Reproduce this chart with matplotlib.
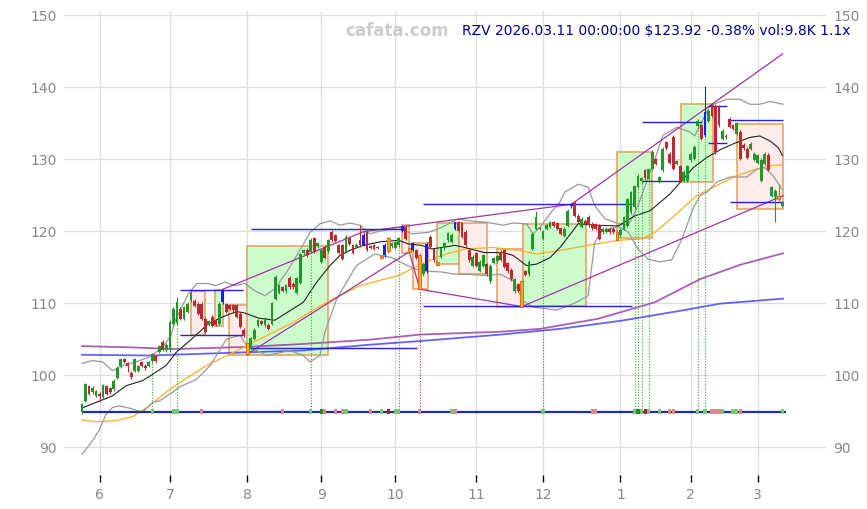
import matplotlib
matplotlib.use('Agg')
import matplotlib.pyplot as plt
from matplotlib.patches import Rectangle
import numpy as np
import pandas as pd

# trading calendar (x axis is bar index, labelled by month)
holidays = ['2025-05-26', '2025-06-19', '2025-07-04', '2025-09-01', '2025-11-27',
            '2025-12-25', '2026-01-01', '2026-01-19', '2026-02-16']
dates = pd.bdate_range('2025-05-23', '2026-03-11', freq='C', holidays=holidays)

# daily OHLC
opens = [94.8, 96.4, 98.4, 97.6, 97.1, 97.4, 96.9, 98.5, 98.2, 98.0,
         99.6, 101.2, 102.2, 101.6, 100.3, 100.6, 100.6, 101.8, 101.3, 101.3,
         101.9, 102.6, 103.2, 104.6, 103.4, 103.4, 107.1, 107.2, 109.2, 107.8,
         108.8, 110.4, 110.3, 109.9, 109.9, 107.8, 107.0, 108.1, 107.6, 107.1,
         110.1, 109.8, 109.7, 109.7, 109.7, 108.5, 106.3, 104.4, 103.6, 105.0,
         106.8, 107.5, 106.9, 107.0, 107.1, 110.6, 111.4, 112.2, 111.6, 113.5,
         112.7, 111.4, 112.8, 116.9, 117.4, 117.1, 119.0, 117.9, 115.7, 117.8,
         117.2, 119.9, 119.4, 118.0, 118.0, 117.1, 119.0, 118.0, 117.8, 118.7,
         118.1, 119.9, 117.9, 118.0, 117.8, 116.5, 116.6, 117.2, 117.9, 117.7,
         118.0, 120.0, 120.5, 117.6, 117.4, 117.3, 116.7, 114.0, 114.4, 119.2,
         117.5, 115.7, 116.4, 117.6, 118.7, 118.5, 120.3, 121.2, 121.1, 119.9,
         117.3, 115.2, 116.9, 114.5, 115.2, 115.4, 113.0, 115.6, 115.8, 117.1,
         117.3, 115.5, 114.6, 111.6, 112.6, 113.1, 114.4, 114.0, 117.5, 120.3,
         120.4, 118.9, 120.3, 120.6, 121.2, 121.1, 120.4, 119.3, 120.7, 123.4,
         123.9, 122.1, 120.6, 121.4, 122.0, 121.0, 120.9, 120.8, 119.8, 119.9,
         120.3, 120.3, 119.9, 119.4, 120.3, 120.7, 122.6, 123.3, 126.1, 126.9,
         128.4, 127.2, 128.6, 130.0, 127.0, 128.4, 132.3, 130.7, 133.1, 129.3,
         129.0, 127.0, 127.0, 129.8, 130.0, 134.6, 134.7, 133.3, 135.3, 137.6,
         137.4, 137.3, 132.8, 133.2, 135.6, 134.7, 133.5, 133.8, 132.0, 131.4,
         131.4, 129.9, 129.5, 127.0, 129.3, 130.6, 124.9, 124.7, 124.9, 123.5]
closes = [95.9, 98.7, 97.4, 98.2, 97.7, 97.1, 98.6, 97.4, 97.6, 99.2,
          101.0, 102.2, 101.8, 101.2, 99.7, 102.2, 101.2, 101.3, 100.9, 101.8,
          102.9, 101.9, 104.0, 103.5, 104.2, 107.4, 109.2, 110.2, 107.8, 109.4,
          109.9, 111.4, 109.6, 108.5, 107.8, 106.0, 107.5, 106.8, 107.0, 109.9,
          111.8, 108.8, 109.2, 109.0, 108.1, 106.7, 105.5, 102.9, 105.1, 106.3,
          107.6, 107.1, 107.8, 106.4, 110.0, 113.6, 112.5, 111.7, 112.5, 112.2,
          112.2, 113.4, 116.8, 117.3, 116.6, 118.8, 117.1, 118.3, 117.3, 116.3,
          118.7, 118.7, 118.6, 117.0, 116.1, 119.2, 118.2, 117.0, 118.1, 118.0,
          119.4, 117.4, 117.7, 117.5, 117.7, 116.3, 118.1, 119.0, 118.3, 118.4,
          119.0, 120.7, 118.9, 117.1, 118.3, 116.3, 111.9, 115.4, 118.2, 117.8,
          115.9, 115.3, 117.6, 118.3, 119.7, 119.5, 121.2, 120.0, 119.2, 118.0,
          115.9, 116.4, 115.2, 115.7, 116.6, 114.0, 115.2, 116.2, 116.5, 116.0,
          115.0, 114.4, 113.3, 113.3, 111.7, 109.5, 113.9, 115.7, 119.6, 121.9,
          120.3, 120.0, 120.8, 121.2, 120.7, 120.3, 119.6, 120.3, 122.8, 123.7,
          122.1, 121.3, 121.7, 121.0, 120.8, 120.4, 120.3, 118.9, 120.3, 120.3,
          119.8, 119.8, 118.8, 120.2, 121.9, 124.4, 125.4, 126.2, 127.7, 127.3,
          127.3, 128.6, 131.0, 129.3, 127.5, 131.4, 131.5, 129.5, 128.6, 129.7,
          127.0, 128.2, 129.0, 130.7, 131.7, 135.3, 132.8, 136.5, 136.7, 136.0,
          130.9, 134.7, 133.9, 133.0, 134.5, 134.2, 135.0, 130.0, 131.5, 130.2,
          132.1, 130.7, 130.5, 129.9, 130.7, 128.5, 126.1, 125.6, 124.39, 123.92]
highs = [96.1, 98.9, 98.6, 98.4, 97.9, 97.6, 98.8, 98.6, 98.3, 99.4,
         101.2, 102.4, 102.4, 101.8, 100.5, 102.4, 101.4, 101.9, 101.5, 102.0,
         103.1, 102.8, 104.2, 104.8, 104.4, 107.6, 109.5, 110.8, 109.5, 109.6,
         110.1, 111.6, 110.6, 110.1, 110.1, 108.0, 107.7, 108.3, 107.8, 110.1,
         111.9, 110.0, 109.9, 109.9, 109.9, 108.7, 106.5, 104.5, 105.3, 106.5,
         107.8, 107.7, 108.0, 107.2, 110.2, 113.9, 112.7, 112.4, 112.7, 113.7,
         112.9, 113.6, 117.0, 117.5, 117.6, 119.0, 119.2, 118.5, 117.5, 118.0,
         118.9, 120.1, 119.6, 118.2, 118.2, 119.4, 119.2, 118.2, 118.3, 120.8,
         119.9, 120.1, 118.1, 118.2, 117.9, 116.6, 118.3, 119.2, 118.5, 118.6,
         119.2, 120.8, 120.7, 117.8, 118.5, 117.5, 116.9, 115.6, 118.4, 119.4,
         117.7, 115.9, 117.8, 118.5, 119.9, 119.7, 121.3, 121.4, 121.3, 120.1,
         117.5, 116.6, 117.1, 115.9, 116.8, 115.6, 115.4, 116.4, 116.7, 117.3,
         117.5, 115.7, 114.8, 113.5, 112.8, 113.2, 114.6, 115.9, 119.8, 122.8,
         120.6, 120.2, 121.0, 121.4, 121.4, 121.3, 120.6, 120.5, 123.0, 123.8,
         124.1, 122.3, 121.9, 121.6, 122.2, 121.2, 121.1, 121.0, 120.5, 120.5,
         120.5, 120.5, 120.1, 120.4, 122.1, 124.6, 125.6, 126.4, 127.9, 127.5,
         128.6, 128.8, 131.2, 130.2, 127.7, 131.6, 132.5, 130.9, 133.3, 129.9,
         129.2, 128.4, 129.2, 130.9, 131.9, 135.5, 134.9, 140.2, 136.9, 137.8,
         137.6, 137.5, 134.1, 133.4, 135.8, 134.9, 135.2, 134.0, 132.2, 131.6,
         132.3, 130.9, 130.7, 130.1, 130.9, 130.8, 126.3, 125.8, 126.5, 124.1]
lows = [94.6, 96.2, 97.2, 97.4, 96.9, 96.3, 96.7, 97.2, 97.4, 97.8,
        99.4, 101.0, 101.6, 100.4, 99.5, 100.4, 100.4, 101.1, 100.7, 101.1,
        101.7, 101.7, 103.0, 103.3, 103.2, 103.2, 106.9, 107.0, 107.6, 107.6,
        108.6, 110.2, 109.4, 108.3, 107.6, 105.8, 106.8, 106.6, 106.8, 106.9,
        109.9, 108.6, 109.0, 108.8, 107.9, 106.5, 105.3, 102.8, 103.4, 104.8,
        106.6, 106.9, 106.7, 106.2, 106.9, 110.4, 111.2, 111.5, 111.4, 112.0,
        112.0, 111.2, 112.6, 116.7, 116.4, 116.9, 116.9, 117.7, 115.5, 116.1,
        117.0, 118.5, 118.4, 116.8, 115.9, 116.9, 118.0, 116.8, 117.6, 117.8,
        117.9, 117.2, 117.5, 117.3, 117.5, 116.1, 116.4, 117.0, 117.7, 117.5,
        117.8, 119.9, 118.7, 116.9, 117.2, 116.1, 111.9, 113.8, 114.2, 117.6,
        115.7, 115.1, 116.2, 117.4, 118.5, 118.3, 120.1, 119.8, 119.0, 117.8,
        115.7, 115.0, 115.0, 114.3, 115.0, 113.8, 112.8, 115.4, 115.6, 115.8,
        114.8, 114.2, 113.1, 111.4, 111.5, 109.5, 113.7, 113.8, 117.3, 120.1,
        120.1, 118.7, 120.1, 120.4, 120.5, 120.1, 119.4, 119.1, 120.5, 123.2,
        121.9, 121.1, 120.4, 120.8, 120.6, 120.2, 120.1, 118.7, 119.6, 119.7,
        119.6, 119.6, 118.6, 119.2, 120.1, 120.5, 122.4, 123.1, 125.9, 126.7,
        127.1, 127.0, 128.4, 129.1, 126.7, 128.2, 131.3, 129.3, 128.4, 129.1,
        126.8, 126.8, 126.8, 129.6, 129.8, 134.4, 132.6, 133.0, 135.1, 135.8,
        130.7, 134.5, 132.6, 132.8, 134.3, 134.0, 133.3, 129.8, 131.3, 130.0,
        131.2, 129.7, 129.3, 126.8, 129.1, 128.3, 124.7, 121.3, 124.1, 123.3]

# highlighted candles
blue_bars = [40, 80, 86, 91, 94, 98, 106, 139, 177]
orange_bars = [47, 85, 87, 93, 96, 101, 125, 152, 198]

# indicator lines, read at bar positions
mid_x = [0, 8.7, 12.5, 17.2, 20.1, 23.9, 26.7, 31.2, 35.9, 40.6, 44, 46.3, 50.1, 54.8,
         60, 62.9, 66.7, 70.5, 73.3, 76.1, 79.9, 81.8, 85, 90, 92.7, 96.5, 99.3, 102.2,
         106, 108.8, 114.3, 119.7, 122.5, 126.3, 129.2, 133, 136, 141, 145.7, 152.4,
         157.1, 161.4, 167, 170.8, 173.7, 177.5, 181.8, 186, 189.8, 192.6, 195.5, 197.8, 199]
mid_y = [95.4, 97.1, 98.5, 99.2, 100.1, 101.3, 103.1, 105.0, 107.1, 108.2, 108.8, 108.6, 107.9, 107.6,
         109.2, 110.1, 112.9, 115.2, 116.6, 117.3, 118.0, 118.2, 118.5, 118.7, 118.2, 118.0, 117.5, 117.7,
         118.0, 117.7, 117.0, 117.0, 116.6, 115.2, 115.4, 116.3, 117.8, 121.0, 120.8, 120.7,
         122.1, 122.8, 125.1, 127.2, 128.8, 130.2, 131.4, 132.3, 133.0, 133.2, 132.5, 131.6, 130.5]

upper_x = [0, 3, 5.9, 8.7, 11.6, 15.3, 19.1, 22.9, 25.3, 26.7, 30.2, 32.6, 35.9, 37.8, 40.6,
           43.5, 46.3, 49.1, 52, 54.8, 58.2, 61.9, 64.8, 67.6, 70.5, 73.3, 76.1, 79, 81.8,
           83.2, 89.9, 93.7, 98.4, 102.2, 106.9, 108.8, 115, 119.7, 122.5, 126.3, 128.2,
           130.1, 133, 135.8, 137.2, 141, 143.8, 145.7, 148.6, 152.4, 155.2, 158, 160.9,
           162.8, 165.1, 169, 172.7, 174.1, 178.4, 183.2, 186.9, 189.8, 192.6, 195.5, 199.2]
upper_y = [101.6, 102.0, 101.8, 100.6, 101.3, 101.8, 102.5, 103.8, 105.5, 107.8, 111.25, 112.7, 112.7, 112.4, 112.9,
           112.4, 112.7, 111.7, 111.0, 112.0, 114.3, 117.3, 119.8, 121.0, 121.4, 120.8, 121.1, 120.8, 119.6,
           119.8, 120.5, 119.6, 119.8, 120.5, 121.7, 121.5, 121.2, 120.8, 121.1, 121.0, 119.6,
           120.5, 122.4, 124.0, 125.4, 126.5, 126.1, 123.5, 121.7, 121.0, 120.8, 123.5, 127.5,
           130.0, 133.3, 134.4, 133.75, 133.2, 137.4, 138.3, 138.3, 137.6, 137.6, 138.0, 137.6]

lower_x = [0, 2.8, 5.1, 6.8, 8.7, 10.6, 13.4, 17.2, 20.1, 22, 25.8, 27.6, 32.6, 36.4, 41.1,
           44.9, 46.8, 52.5, 59.1, 62.9, 64.8, 67.6, 69, 72.4, 75.2, 78, 80.9, 83.2, 88, 90.8,
           94.6, 98.4, 102.2, 106, 108.8, 115, 118.8, 122.5, 125.4, 128.2, 132, 134.9, 140.1,
           143.8, 145.7, 147.7, 152.3, 155.1, 158, 160.8, 164.2, 167.6, 170.5, 173.6, 175.6,
           177.6, 180.4, 184.1, 188.9, 191.8, 194, 196.3, 198.9]
lower_y = [89.0, 90.7, 92.5, 94.5, 95.5, 95.7, 95.4, 94.8, 96.2, 96.4, 97.6, 98.3, 99.4, 101.3, 105.0,
           105.5, 104.1, 102.7, 103.4, 102.7, 101.8, 102.7, 105.9, 110.6, 112.9, 115.2, 116.1, 116.8, 116.3, 115.6,
           114.7, 114.4, 114.3, 114.0, 114.0, 113.8, 114.0, 113.1, 110.3, 109.4, 109.2, 109.0, 110.0,
           111.0, 118.4, 120.0, 120.6, 119.9, 117.5, 116.1, 115.7, 116.0, 118.9, 123.1, 124.9,
           125.4, 126.8, 127.5, 127.5, 128.6, 128.8, 127.7, 125.8]

ma_orange_x = [0, 4, 9.7, 14.4, 19.1, 23.9, 27.6, 35.4, 44.9, 50.6, 60, 69.5, 79, 89.9, 96.5,
               102.2, 108.8, 116.8, 124.4, 129.2, 135.8, 143.8, 152.4, 159, 162.8, 169, 174.6,
               180.3, 186, 191.7, 196.4, 199.2]
ma_orange_y = [93.75, 93.5, 93.65, 94.2, 95.7, 97.6, 98.9, 101.3, 103.6, 105.0, 107.3, 110.1, 112.4, 113.8, 115.4,
               116.6, 117.5, 117.7, 117.3, 116.8, 117.3, 118.0, 118.7, 118.9, 119.8, 122.4, 124.9,
               126.3, 127.7, 128.6, 129.1, 129.2]

ma_purple_x = [0, 12.5, 26.7, 47, 62.8, 81.8, 95.9, 118.8, 130.1, 146.6, 162.8, 175.6, 187, 199.2]
ma_purple_y = [104.0, 103.85, 103.6, 103.9, 104.3, 104.9, 105.6, 106.0, 106.4, 107.8, 110.1, 113.3, 115.3, 116.9]

ma_blue_x = [0, 19.3, 46.9, 62.8, 81.8, 95.9, 118.8, 135.8, 152.8, 169.9, 181.3, 199.2]
ma_blue_y = [102.8, 102.7, 103.15, 103.4, 104.2, 104.7, 105.6, 106.4, 107.5, 108.9, 109.9, 110.6]

# trend lines: (bar, price) -> (bar, price)
trend_x0 = [40, 80, 139, 47, 93, 96, 125]
trend_y0 = [111.9, 119.9, 123.7, 102.9, 117.1, 111.9, 109.5]
trend_x1 = [80, 139, 199.1, 93, 96, 125, 199.2]
trend_y1 = [119.9, 123.7, 144.6, 117.1, 111.9, 109.5, 124.9]

# support / resistance levels
level_y = [111.8, 105.55, 120.24, 103.75, 123.75, 109.55, 135.1, 126.9, 137.3, 132.2, 135.4, 124.0]
level_x0 = [27.8, 27.8, 48, 47.2, 96.9, 96.9, 159.1, 159.1, 177.8, 177.8, 184.1, 184.1]
level_x1 = [45.8, 45.8, 90.9, 95.2, 156.3, 156.3, 176.1, 169.9, 183.2, 183.2, 199.1, 199.1]

# zones
box_x0 = [31.0, 37.8, 41.8, 46.9, 90.8, 94.1, 101.0, 107.0, 118.0, 125.2, 152.1, 170.1, 186.2]
box_x1 = [35.1, 40.0, 47.1, 69.9, 93.0, 98.2, 107.0, 115.1, 125.2, 143.1, 162.1, 179.2, 199.1]
box_lo = [105.6, 106.85, 102.8, 102.8, 117.0, 111.9, 115.4, 114.0, 109.5, 109.55, 119.0, 126.85, 123.0]
box_hi = [111.67, 111.8, 109.7, 117.9, 120.8, 118.3, 121.06, 121.06, 117.5, 121.0, 130.9, 137.7, 134.8]
box_up = [False, True, False, True, False, False, True, False, False, True, True, True, False]

# signal strip
signal_level = 94.9
sig_green = [20, 26, 27, 65, 75, 85, 89, 90, 105, 131, 157, 159, 161, 164, 175, 177, 182, 185, 186, 199]
sig_green_strong = [68, 158]
sig_red = [34, 57, 69, 72, 74, 82, 96, 106, 145, 146, 167, 168, 179, 180, 181, 187]
sig_red_strong = [87, 160]
drop_green = [20, 27, 65, 90, 131, 157, 158, 159, 161, 175, 177]
drop_red = [96]

title = "RZV 2026.03.11 00:00:00 $123.92 -0.38% vol:9.8K 1.1x"

GREEN = '#23962a'
RED = '#bb2a2e'

fig = plt.figure(figsize=(8.67, 5.10), dpi=100)
ax = fig.add_axes([64 / 867, 1 - 476 / 510, 762 / 867, 463.6 / 510])

for s in ax.spines.values():
    s.set_visible(False)
ax.grid(True, color='#dddddd', lw=0.9)
ax.set_axisbelow(True)

# zones
for x0, x1, lo, hi, up in zip(box_x0, box_x1, box_lo, box_hi, box_up):
    fc = '#ccfccc' if up else '#fdecea'
    ax.add_patch(Rectangle((x0, lo), x1 - x0, hi - lo, facecolor=fc,
                           edgecolor='#e3a468', lw=1.2, zorder=1))

# moving averages / bands
ax.plot(ma_blue_x, ma_blue_y, color='#3030f0', lw=1.3, alpha=0.75, zorder=2)
ax.plot(ma_purple_x, ma_purple_y, color='#9028a0', lw=1.3, alpha=0.75, zorder=2)
ax.plot(ma_orange_x, ma_orange_y, color='#ffad1f', lw=0.9, zorder=2)
ax.plot(upper_x, upper_y, color='#999999', lw=0.9, zorder=2)
ax.plot(lower_x, lower_y, color='#999999', lw=0.9, zorder=2)
ax.plot(mid_x, mid_y, color='#222222', lw=0.8, zorder=2)

for x0, y0, x1, y1 in zip(trend_x0, trend_y0, trend_x1, trend_y1):
    ax.plot([x0, x1], [y0, y1], color='#a035a8', lw=0.9, zorder=3)

for y, x0, x1 in zip(level_y, level_x0, level_x1):
    ax.hlines(y, x0, x1, color='#2222e0', lw=1.0, zorder=3)

# signal strip
n = len(closes)
ax.hlines(signal_level, 0, n, color='#1f2fa0', lw=1.6, zorder=3)
for i in drop_green:
    ax.vlines(i, signal_level, lows[i], color='#33aa33', lw=0.8, linestyles=(0, (1, 1.5)), zorder=2)
for i in drop_red:
    ax.vlines(i, signal_level, lows[i], color='#cc3333', lw=0.8, linestyles=(0, (1, 1.5)), zorder=2)
for idx, col in [(sig_green, '#7cc47c'), (sig_red, '#d98a8a'),
                 (sig_green_strong, '#228b22'), (sig_red_strong, '#b22222')]:
    ax.bar(idx, 0.6, bottom=signal_level - 0.3, width=0.9, color=col, zorder=4)

# candles
for i in range(n):
    o, h, l, c = opens[i], highs[i], lows[i], closes[i]
    if i in blue_bars:
        col, ec = '#1a1aff', '#1a1aff'
    elif i in orange_bars:
        col, ec = '#ffa51a', '#d0601a'
    else:
        col = GREEN if c >= o else RED
        ec = col
    ax.vlines(i, l, h, color=ec, lw=0.8, zorder=5)
    ax.bar(i, max(abs(c - o), 0.12), bottom=min(o, c), width=0.8,
           color=col, edgecolor=ec, lw=0.6 if i in orange_bars else 0, zorder=6)

# axes
month_idx = [i for i in range(1, len(dates)) if dates[i].month != dates[i - 1].month]
ax.set_xticks(month_idx)
ax.set_xticklabels([str(dates[i].month) for i in month_idx])
ax.set_xlim(-5.1, 211.4)
ax.set_ylim(86.1, 150.5)
ax.set_yticks(np.arange(90, 151, 10))
ax.tick_params(axis='x', length=5, width=1, color='black', pad=4, labelsize=10, labelcolor='#888888')
ax.tick_params(axis='y', length=0, pad=5, labelsize=10, labelcolor='#888888',
               labelleft=True, labelright=True)

fig.text(397 / 867, 1 - 31 / 510, 'cafata.com', ha='center', va='center',
         color='#cccccc', fontsize=12, fontweight='bold')
fig.text(851 / 867, 1 - 31 / 510, title, ha='right', va='center',
         color='#00008b', fontsize=10)

fig.savefig('out.png', dpi=100)
